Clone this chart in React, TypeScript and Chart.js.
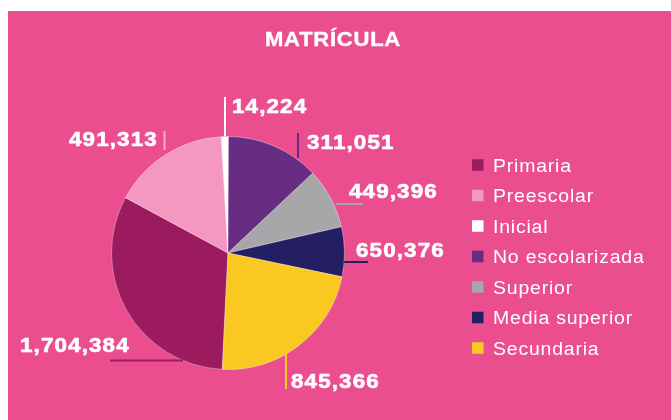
import React, { useEffect, useRef } from "react";
import { Chart, registerables } from "chart.js";

Chart.register(...registerables);

// ---- data ----
const title = "MATRÍCULA";
const categories = [
  "Primaria",
  "Preescolar",
  "Inicial",
  "No escolarizada",
  "Superior",
  "Media superior",
  "Secundaria",
];
const enrollment = [1704384, 491313, 14224, 311051, 449396, 650376, 845366];
const valueLabels = ["1,704,384", "491,313", "14,224", "311,051", "449,396", "650,376", "845,366"];
// share of the circle each slice occupies in the drawn pie (%)
const sliceShares = [32.1, 16.2, 1.0, 12.9, 8.4, 6.9, 22.5];
const sliceColors = ["#9C1B5E", "#F498C2", "#FFFFFF", "#662D83", "#A7A6A8", "#231F62", "#F9C922"];
const leaderColors = ["#9C1B5E", "#F7AACD", "#FFFFFF", "#662D83", "#A7A6A8", "#231F62", "#F9C922"];

// ---- layout / style constants ----
const BG = "#EA4E8E";
const W = 663;
const H = 409;
const FONT = '"Liberation Sans", Arial, Helvetica, sans-serif';

// callouts relative to the pie centre: text anchor (left, baseline) and leader line
const callouts = [
  { tx: -208, ty: 99, x1: -118, y1: 107.5, x2: -45, y2: 107.5 },
  { tx: -159, ty: -107, x1: -63.5, y1: -122, x2: -63.5, y2: -103 },
  { tx: 4, ty: -140, x1: -3, y1: -156, x2: -3, y2: -117 },
  { tx: 79, ty: -104, x1: 70, y1: -120, x2: 70, y2: -95 },
  { tx: 121, ty: -55, x1: 108, y1: -49, x2: 135, y2: -49 },
  { tx: 128, ty: 4, x1: 116, y1: 9, x2: 140, y2: 9 },
  { tx: 63, ty: 135, x1: 58, y1: 101, x2: 58, y2: 136 },
];

function drawText(
  ctx: CanvasRenderingContext2D,
  text: string,
  x: number,
  y: number,
  font: string,
  sx: number,
  ls: number,
  strokeW: number
) {
  ctx.save();
  ctx.translate(x, y);
  ctx.scale(sx, 1);
  ctx.font = font;
  (ctx as any).letterSpacing = `${ls}px`;
  ctx.textAlign = "left";
  ctx.textBaseline = "alphabetic";
  ctx.fillStyle = "#FFFFFF";
  ctx.fillText(text, 0, 0);
  if (strokeW > 0) {
    ctx.strokeStyle = "#FFFFFF";
    ctx.lineWidth = strokeW;
    ctx.lineJoin = "round";
    ctx.strokeText(text, 0, 0);
  }
  ctx.restore();
}

const overlayPlugin = {
  id: "overlay",
  beforeDraw(chart: any) {
    const ctx = chart.ctx;
    ctx.save();
    ctx.fillStyle = BG;
    ctx.fillRect(0, 0, chart.width, chart.height);
    ctx.restore();
  },
  afterDraw(chart: any) {
    const ctx: CanvasRenderingContext2D = chart.ctx;
    const meta = chart.getDatasetMeta(0);
    const arc0 = meta.data[0];
    const cx = arc0.x;
    const cy = arc0.y;

    // title
    drawText(ctx, title, 257, 35, `bold 21px ${FONT}`, 1.05, 0.7, 0.4);

    // leader lines and value labels
    callouts.forEach((c, i) => {
      ctx.save();
      ctx.strokeStyle = leaderColors[i];
      ctx.lineWidth = 2;
      ctx.beginPath();
      ctx.moveTo(cx + c.x1, cy + c.y1);
      ctx.lineTo(cx + c.x2, cy + c.y2);
      ctx.stroke();
      ctx.restore();
      drawText(ctx, valueLabels[i], cx + c.tx, cy + c.ty, `bold 20px ${FONT}`, 1.12, 1.0, 0.6);
    });

    // legend
    const labels: string[] = chart.data.labels;
    const colors: string[] = chart.data.datasets[0].backgroundColor;
    labels.forEach((lab, i) => {
      const yc = 154 + i * 30.5;
      ctx.save();
      ctx.fillStyle = colors[i];
      ctx.fillRect(464, yc - 5.75, 11.5, 11.5);
      ctx.restore();
      drawText(ctx, lab, 485, yc + 6.6, `18px ${FONT}`, 1.08, 0.75, 0);
    });
  },
};

export default function App() {
  const canvasRef = useRef<HTMLCanvasElement | null>(null);

  useEffect(() => {
    if (!canvasRef.current) return;
    const chart = new Chart(canvasRef.current, {
      type: "pie",
      data: {
        labels: categories,
        datasets: [
          {
            data: sliceShares,
            backgroundColor: sliceColors,
            borderColor: "rgba(255,255,255,0.35)",
            borderWidth: 1,
            hoverOffset: 0,
          } as any,
        ],
      },
      options: {
        responsive: false,
        animation: false,
        events: [],
        rotation: 182.8,
        layout: { padding: { left: 103, right: 326, top: 125, bottom: 50 } },
        plugins: {
          legend: { display: false },
          title: { display: false },
          tooltip: { enabled: false },
        },
      },
      plugins: [overlayPlugin],
    });
    return () => chart.destroy();
  }, []);

  return (
    <div
      style={{
        position: "absolute",
        left: 8,
        top: 11,
        width: W,
        height: H,
        background: BG,
        overflow: "hidden",
      }}
      data-enrollment={enrollment.join(",")}
    >
      <canvas ref={canvasRef} width={W} height={H} style={{ display: "block", width: W, height: H }} />
    </div>
  );
}
